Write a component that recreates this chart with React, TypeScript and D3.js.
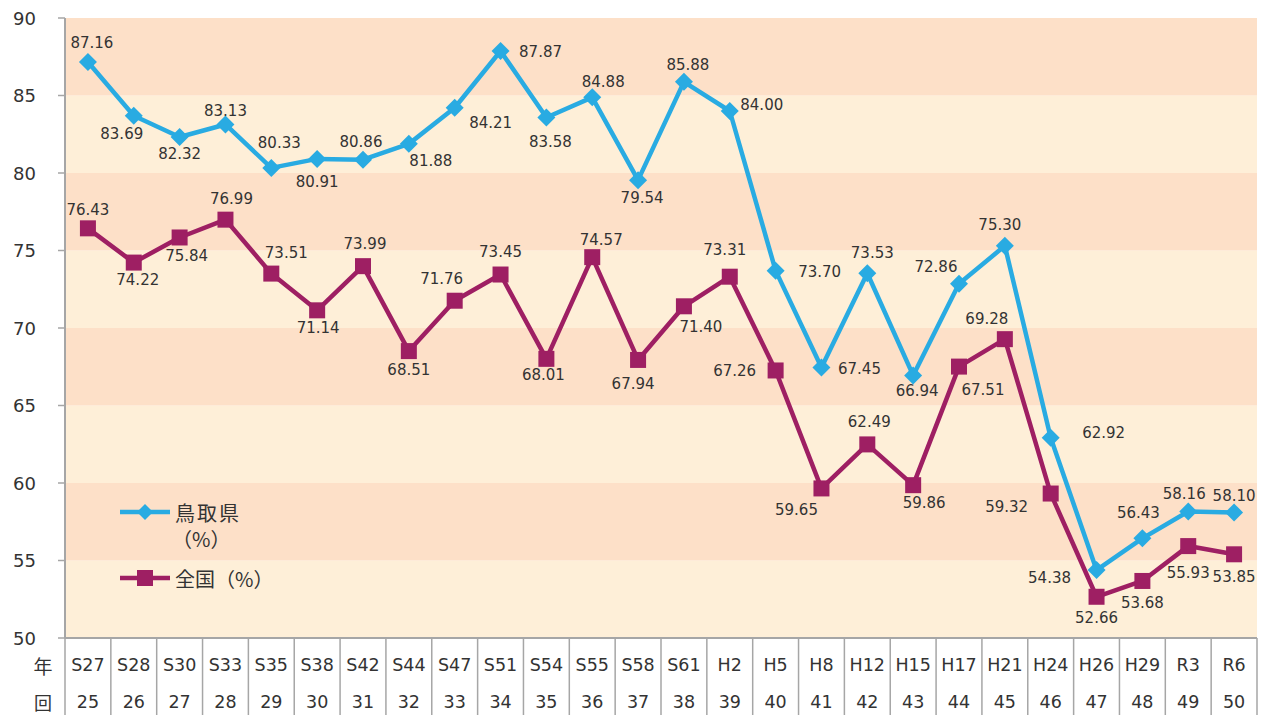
import * as d3 from "d3";

// 年 / 回 rows of the table under the chart
const years = ["S27", "S28", "S30", "S33", "S35", "S38", "S42", "S44", "S47", "S51", "S54", "S55", "S58", "S61", "H2", "H5", "H8", "H12", "H15", "H17", "H21", "H24", "H26", "H29", "R3", "R6"];
const rounds = ["25", "26", "27", "28", "29", "30", "31", "32", "33", "34", "35", "36", "37", "38", "39", "40", "41", "42", "43", "44", "45", "46", "47", "48", "49", "50"];

// 鳥取県 turnout (%)
const tottori = [87.16, 83.69, 82.32, 83.13, 80.33, 80.91, 80.86, 81.88, 84.21, 87.87, 83.58, 84.88, 79.54, 85.88, 84.0, 73.7, 67.45, 73.53, 66.94, 72.86, 75.3, 62.92, 54.38, 56.43, 58.16, 58.1];
// 全国 turnout (%) — last point is drawn near 55.4 in the source although it is labelled 53.85
const national = [76.43, 74.22, 75.84, 76.99, 73.51, 71.14, 73.99, 68.51, 71.76, 73.45, 68.01, 74.57, 67.94, 71.4, 73.31, 67.26, 59.65, 62.49, 59.86, 67.51, 69.28, 59.32, 52.66, 53.68, 55.93, 55.4];
const nationalLabels = ["76.43", "74.22", "75.84", "76.99", "73.51", "71.14", "73.99", "68.51", "71.76", "73.45", "68.01", "74.57", "67.94", "71.40", "73.31", "67.26", "59.65", "62.49", "59.86", "67.51", "69.28", "59.32", "52.66", "53.68", "55.93", "53.85"];

const yTicks = [50, 55, 60, 65, 70, 75, 80, 85, 90];

// label nudges (dx, dy) from each marker, the way they were placed by hand
const tottoriNudge = [[4, -19], [-12, 18], [0, 17], [0, -13], [8, -25], [0, 23], [-2, -18], [22, 17], [36, 15], [40, 1], [4, 24], [11, -15], [4, 18], [4, -17], [32, -6], [44, 1], [38, 1], [5, -20], [4, 16], [-23, -17], [-5, -21], [53, -5], [-47, 8], [-4, -25], [-4, -18], [0, -16]];
const nationalNudge = [[0, -18], [4, 17], [7, 19], [6, -21], [15, -21], [1, 18], [2, -22], [0, 19], [-13, -22], [0, -23], [-3, 16], [9, -17], [-5, 24], [17, 21], [-5, -27], [-41, 1], [-25, 22], [2, -22], [11, 18], [24, 23], [-18, -20], [-44, 13], [0, 21], [0, 22], [0, 27], [0, 23]];

const W = 1268;
const H = 715;
const left = 65;
const right = 1257;
const top = 18;
const bottom = 638;

const BLUE = "#29abe2";
const PLUM = "#9e1f63";
const TEXT = "#333333";
const GRID = "#a6a6a6";
const NUM_FONT = "'DejaVu Sans', Verdana, sans-serif";
const JP_FONT = "'Noto Sans CJK JP', sans-serif";

export default function App() {
  const x = d3.scaleBand().domain(years).range([left, right]);
  const y = d3.scaleLinear().domain([50, 90]).range([bottom, top]);
  const cx = (i: number) => (x(years[i]) as number) + x.bandwidth() / 2;

  const line = d3
    .line<number>()
    .x((_, i) => cx(i))
    .y((d) => y(d));

  const diamond = (px: number, py: number, r: number) =>
    `M${px},${py - r}L${px + r},${py}L${px},${py + r}L${px - r},${py}Z`;

  const bands = d3.range(50, 90, 5);

  return (
    <svg width={W} height={H} style={{ position: "absolute", left: 0, top: 0, background: "#fff" }}>
      {/* alternating background bands */}
      {bands.map((b) => (
        <rect
          key={b}
          x={left}
          y={y(b + 5)}
          width={right - left}
          height={y(b) - y(b + 5)}
          fill={(b / 5) % 2 === 1 ? "#fde0c8" : "#feefd8"}
        />
      ))}

      {/* y axis */}
      <line x1={left} x2={left} y1={top} y2={bottom} stroke={GRID} strokeWidth={2} />
      {yTicks.map((t) => (
        <g key={t}>
          <line x1={left - 7} x2={left} y1={y(t)} y2={y(t)} stroke={GRID} strokeWidth={1.5} />
          <text x={36} y={y(t)} textAnchor="end" dominantBaseline="central" fontFamily={NUM_FONT} fontSize={18} fill={TEXT}>
            {t}
          </text>
        </g>
      ))}

      {/* table under the chart */}
      <line x1={left} x2={right} y1={bottom} y2={bottom} stroke={GRID} strokeWidth={2} />
      {years.map((yr) => (
        <line key={"v" + yr} x1={x(yr) as number} x2={x(yr) as number} y1={bottom} y2={H} stroke={GRID} strokeWidth={1.5} />
      ))}
      <line x1={right} x2={right} y1={bottom} y2={H} stroke={GRID} strokeWidth={1.5} />
      <text x={43} y={665} textAnchor="middle" dominantBaseline="central" fontFamily={JP_FONT} fontSize={19} fill={TEXT}>年</text>
      <text x={43} y={702} textAnchor="middle" dominantBaseline="central" fontFamily={JP_FONT} fontSize={18} fill={TEXT}>回</text>
      {years.map((yr, i) => (
        <g key={"l" + yr}>
          <text x={cx(i)} y={665} textAnchor="middle" dominantBaseline="central" fontFamily={NUM_FONT} fontSize={17.5} fill={TEXT}>
            {yr}
          </text>
          <text x={cx(i)} y={702} textAnchor="middle" dominantBaseline="central" fontFamily={NUM_FONT} fontSize={17.5} fill={TEXT}>
            {rounds[i]}
          </text>
        </g>
      ))}

      {/* series lines */}
      <path d={line(tottori) ?? ""} fill="none" stroke={BLUE} strokeWidth={4.5} strokeLinejoin="round" />
      <path d={line(national) ?? ""} fill="none" stroke={PLUM} strokeWidth={4.5} strokeLinejoin="round" />

      {/* markers */}
      {tottori.map((v, i) => (
        <path key={"td" + i} d={diamond(cx(i), y(v), 9)} fill={BLUE} />
      ))}
      {national.map((v, i) => (
        <rect key={"ns" + i} x={cx(i) - 8} y={y(v) - 8} width={16} height={16} fill={PLUM} />
      ))}

      {/* data labels */}
      {tottori.map((v, i) => (
        <text
          key={"tl" + i}
          x={cx(i) + tottoriNudge[i][0]}
          y={y(v) + tottoriNudge[i][1]}
          textAnchor="middle"
          dominantBaseline="central"
          fontFamily={NUM_FONT}
          fontSize={15}
          fill={TEXT}
        >
          {d3.format(".2f")(v)}
        </text>
      ))}
      {national.map((v, i) => (
        <text
          key={"nl" + i}
          x={cx(i) + nationalNudge[i][0]}
          y={y(v) + nationalNudge[i][1]}
          textAnchor="middle"
          dominantBaseline="central"
          fontFamily={NUM_FONT}
          fontSize={15}
          fill={TEXT}
        >
          {nationalLabels[i]}
        </text>
      ))}

      {/* legend */}
      <line x1={120} x2={170} y1={512} y2={512} stroke={BLUE} strokeWidth={4.5} />
      <path d={diamond(145, 512, 8)} fill={BLUE} />
      <text x={175} y={512} dominantBaseline="central" fontFamily={JP_FONT} fontSize={20} letterSpacing={2} fill={TEXT}>鳥取県</text>
      <text x={172} y={538} dominantBaseline="central" fontFamily={JP_FONT} fontSize={20} fill={TEXT}>（%）</text>
      <line x1={120} x2={170} y1={578} y2={578} stroke={PLUM} strokeWidth={4.5} />
      <rect x={137} y={570} width={16} height={16} fill={PLUM} />
      <text x={175} y={578} dominantBaseline="central" fontFamily={JP_FONT} fontSize={20} fill={TEXT}>
        全国（%）
      </text>
    </svg>
  );
}
